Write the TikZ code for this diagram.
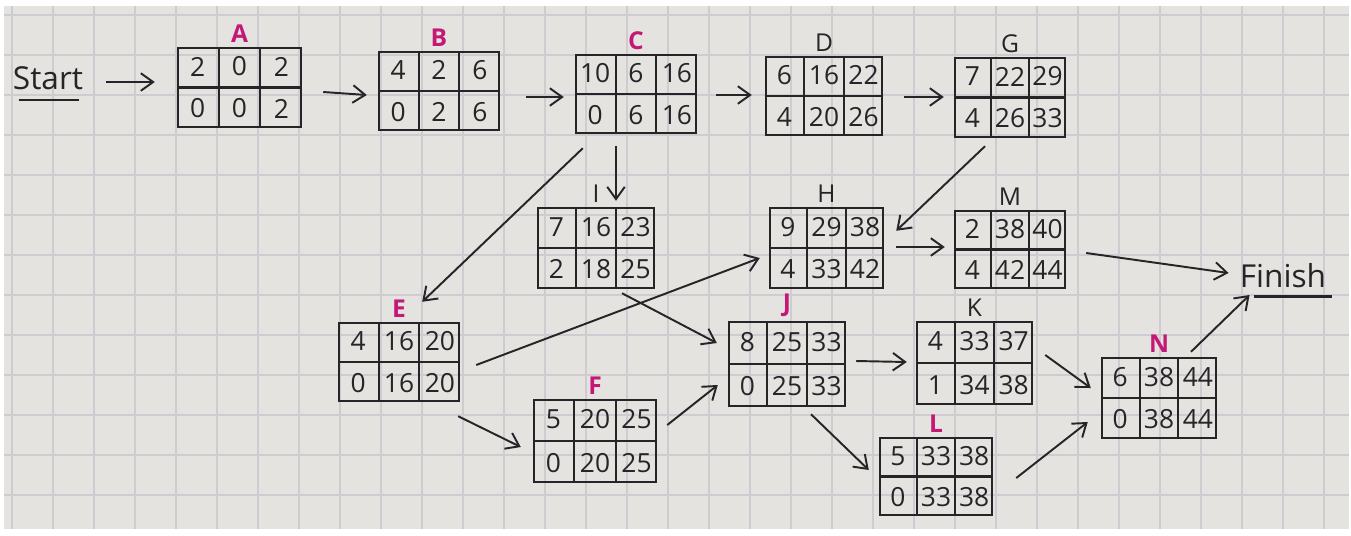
\documentclass[tikz,border=0pt]{standalone}
\usepackage{fontspec}
\setmainfont{Open Sans}
\usetikzlibrary{arrows.meta,calc}
\definecolor{paper}{RGB}{229,227,224}
\definecolor{gridc}{RGB}{206,203,209}
\definecolor{inkc}{RGB}{38,36,38}
\definecolor{pinkc}{RGB}{196,24,118}
\newcommand{\tbox}[9]{%
  \node[cellbox, minimum width={(#4-#2)*0.02cm}, minimum height={(#5-#3)*0.02cm}] (#1) at ({(#2+#4)/2},{(#3+#5)/2}) {};
  \draw[cellline] ($(#1.north west)!1/3!(#1.north east)$) -- ($(#1.south west)!1/3!(#1.south east)$);
  \draw[cellline] ($(#1.north west)!2/3!(#1.north east)$) -- ($(#1.south west)!2/3!(#1.south east)$);
  \draw[cellline] (#1.west) -- (#1.east);
  \foreach \v [count=\i] in {#6} \node[num] (#1-t\i) at ($(#1.north west)!{(\i-0.5)/3}!(#1.north east)+(0,{(#5-#3)/4})$) {\v};
  \foreach \v [count=\i] in {#7} \node[num] (#1-b\i) at ($(#1.south west)!{(\i-0.5)/3}!(#1.south east)+(0,{-(#5-#3)/4})$) {\v};
  \node[#9] (#1-label) at (#1.north) {#8};
}
\begin{document}
\begin{tikzpicture}[x=0.02cm,y=-0.02cm,
  cellbox/.style={draw=inkc, line width=1.4pt, rectangle, inner sep=0pt},
  cellline/.style={draw=inkc, line width=1.2pt},
  num/.style={font=\fontsize{15}{15}\selectfont, text=inkc, inner sep=0pt},
  lblp/.style={font=\bfseries\fontsize{14}{14}\selectfont, text=pinkc, anchor=south, inner sep=2pt},
  lblk/.style={font=\fontsize{14}{14}\selectfont, text=inkc, anchor=south, inner sep=2pt},
  word/.style={font=\fontsize{18}{18}\selectfont, text=inkc, inner sep=0pt},
  arr/.style={draw=inkc, line width=1.1pt, -{Straight Barb[length=7pt,width=10pt]}},
  uline/.style={draw=inkc, line width=1.3pt},
]
\useasboundingbox (0,0) rectangle (1351,535);
\fill[white] (0,0) rectangle (1351,535);
\fill[paper] (4,6) rectangle (1349,529);
\foreach \x in {12,53,...,1340} \draw[gridc, line width=0.6pt] (\x,6) -- (\x,529);
\foreach \y in {15,55,...,525} \draw[gridc, line width=0.6pt] (4,\y) -- (1349,\y);

\node[word] (Start) at (48,78) {Start};
\draw[uline] ($(Start.south west)+(6,10)$) -- ($(Start.south east)+(-4,10)$);
\node[word] (Finish) at (1283,276) {Finish};
\draw[uline] ($(Finish.south west)+(14,8)$) -- ($(Finish.south east)+(6,8)$);

\tbox{A}{178}{48}{301}{127}{2,0,2}{0,0,2}{A}{lblp}
\tbox{B}{379}{52}{499}{130}{4,2,6}{0,2,6}{B}{lblp}
\tbox{C}{576}{55}{696}{133}{10,6,16}{0,6,16}{C}{lblp}
\tbox{D}{766}{57}{882}{135}{6,16,22}{4,20,26}{D}{lblk}
\tbox{G}{955}{58}{1065}{137}{7,22,29}{4,26,33}{G}{lblk}
\tbox{I}{538}{208}{654}{288}{7,16,23}{2,18,25}{I}{lblk}
\tbox{H}{770}{208}{883}{288}{9,29,38}{4,33,42}{H}{lblk}
\tbox{M}{955}{211}{1065}{288}{2,38,40}{4,42,44}{M}{lblk}
\tbox{E}{339}{323}{459}{401}{4,16,20}{0,16,20}{E}{lblp}
\tbox{F}{534}{400}{656}{482}{5,20,25}{0,20,25}{F}{lblp}
\tbox{J}{729}{322}{845}{406}{8,25,33}{0,25,33}{J}{lblp}
\tbox{K}{917}{322}{1032}{404}{4,33,37}{1,34,38}{K}{lblk}
\tbox{L}{880}{438}{992}{515}{5,33,38}{0,33,38}{L}{lblp}
\tbox{N}{1102}{358}{1216}{438}{6,38,44}{0,38,44}{N}{lblp}

\draw[arr] ($(Start.east)+(23,4)$) -- ($(A.west)+(-22,-5.5)$);
\draw[arr] ($(A.east)+(21,4.5)$) -- ($(B.west)+(-11,4)$);
\draw[arr] ($(B.east)+(26,6)$) -- ($(C.west)+(-11,3)$);
\draw[arr] ($(C.east)+(19,1)$) -- ($(D.west)+(-13,-1)$);
\draw[arr] ($(D.east)+(21,1)$) -- ($(G.west)+(-10,-0.5)$);
\draw[arr] ($(C.south)+(-20,12)$) -- ($(I.north)+(20,-6)$);
\draw[arr] ($(C.south west)+(8,14)$) -- ($(E.north east)+(-38,-20)$);
\draw[arr] ($(G.south)+(-25,8)$) -- ($(H.north east)+(12,24)$);
\draw[arr] ($(H.east)+(12,-1)$) -- ($(M.west)+(-9,-2.5)$);
\draw[arr] ($(M.east)+(20,3.5)$) -- ($(Finish.west)+(-11,-3)$);
\draw[arr] ($(N.north)+(32,-5)$) -- ($(Finish.west)+(10,19)$);
\draw[arr] ($(E.east)+(16,3)$) -- ($(H.west)+(-9,10)$);
\draw[arr] ($(E.south east)+(-2,14)$) -- ($(F.west)+(-12,6)$);
\draw[arr] ($(I.south)+(26,4)$) -- ($(J.west)+(-11,-21)$);
\draw[arr] ($(F.east)+(10,-16)$) -- ($(J.west)+(-10,21)$);
\draw[arr] ($(J.east)+(10,-3)$) -- ($(K.west)+(-9,-1)$);
\draw[arr] ($(J.south)+(24,7)$) -- ($(L.west)+(-10,-6.5)$);
\draw[arr] ($(K.east)+(12,-8)$) -- ($(N.west)+(-10,-10)$);
\draw[arr] ($(L.east)+(23,1.5)$) -- ($(N.west)+(-13,24)$);
\end{tikzpicture}
\end{document}
